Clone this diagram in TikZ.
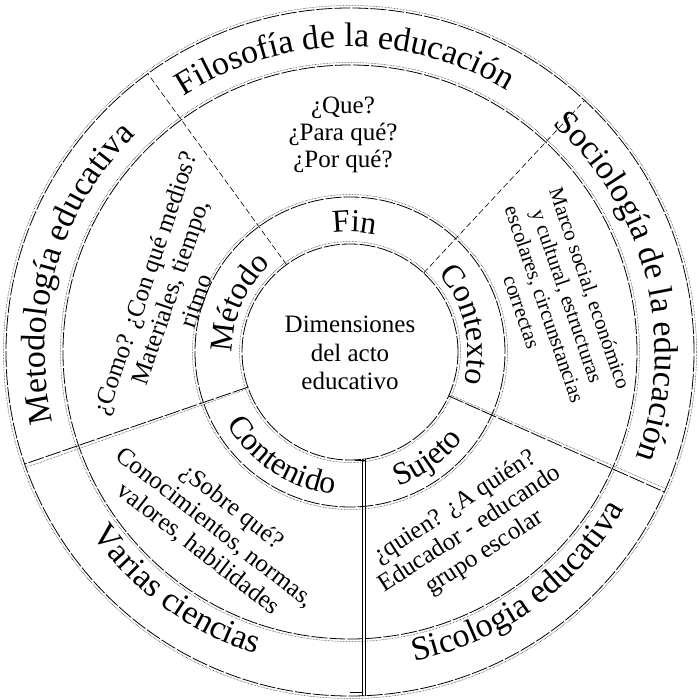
\documentclass[tikz,border=0pt]{standalone}
\usepackage{fontspec}
\setmainfont{Liberation Serif}
\usepackage{tikz}
\usetikzlibrary{decorations.text}
\tikzset{>=latex}
\newcommand\bandfont{\fontsize{34}{34}\selectfont}
\newcommand\ringfont{\fontsize{32}{32}\selectfont}
\newcommand\askfont{\fontsize{25}{27}\selectfont}
\newcommand\smallask{\fontsize{21}{24}\selectfont}
\newcommand\midfont{\fontsize{25}{28.5}\selectfont}

\begin{document}
\begin{tikzpicture}[x=1pt,y=1pt,
    ring/.style={line width=0.8pt,dash pattern=on 16pt off 2pt},
    ringdots/.style={line width=0.5pt,densely dotted},
    divider/.style={line width=0.6pt,dash pattern=on 6pt off 3pt},
    ask/.style={align=center,font=\askfont},
    bandtext/.style={decorate,decoration={text along path,text align=center,text={#1}}}]
    \useasboundingbox (-350,-348) rectangle (348,352);
    % circles
    \foreach \r in {108,155,287,344} {
      \draw[ring] (0,0) circle[radius=\r];
      \draw[ringdots] (0,0) circle[radius=\r+2.5];
    }
    % dividers
    \foreach \a in {126,47} {
      \draw[divider] (\a:108) -- (\a:344);
    }
    \foreach \a in {-24,199} {
      \draw[ring] (\a:108) -- (\a:344);
      \draw[ringdots] (\a+0.8:108) -- (\a+0.6:344);
    }
    \draw[line width=0.6pt] (12,-107.3) -- (12,-343.8);
    \draw[line width=0.6pt] (15,-107) -- (15,-343.7);
    \draw (5,-108) -- (15,-108);
    \draw (0,-340) -- (12,-340);
    % texts
    \node[align=center,font=\midfont] (acto) at (0,-1) {Dimensiones\\del acto\\educativo};
    \node[ask] (fin q) at (-7,217) {¿Que?\\¿Para qué?\\¿Por qué?};
    \node[ask,rotate=71] (metodo q) at (-180,60) {¿Como? ¿Con qué medios?\\Materiales, tiempo,\\ritmo};
    \node[ask,font=\smallask,rotate=-71] (contexto q) at (206,52) {Marco social, económico\\y cultural, estructuras\\escolares, circunstancias\\correctas};
    \node[ask,rotate=33] (sujeto q) at (120,-178) {¿quien? ¿A quién?\\Educador - educando\\grupo escolar};
    \node[ask,rotate=-38] (contenido q) at (-135,-176) {¿Sobre qué?\\Conocimientos, normas,\\valores, habilidades};
    % inner ring
    \path[bandtext={|\ringfont|Fin}] (168:120) arc[start angle=168,end angle=8,radius=120];
    \path[bandtext={|\ringfont|Método}] (236:118) arc[start angle=236,end angle=76,radius=118];
    \path[bandtext={|\ringfont|Contexto}] (93:118) arc[start angle=93,end angle=-67,radius=118];
    \path[bandtext={|\ringfont|Sujeto}] (-134:143) arc[start angle=-134,end angle=26,radius=143];
    \path[bandtext={|\ringfont|Contenido}] (157:143) arc[start angle=157,end angle=317,radius=143];
    % outer band
    \path[bandtext={|\bandfont|Filosofía de la educación}] (161:305) arc[start angle=161,end angle=21,radius=305];
    \path[bandtext={|\bandfont|Sociología de la educación}] (84:305) arc[start angle=84,end angle=-56,radius=305];
    \path[bandtext={|\bandfont|Metodología educativa}] (234:305) arc[start angle=234,end angle=94,radius=305];
    \path[bandtext={|\bandfont|Sicologia educativa}] (-124:316) arc[start angle=-124,end angle=16,radius=316];
    \path[bandtext={|\bandfont|Varias ciencias}] (164:316) arc[start angle=164,end angle=304,radius=316];
\end{tikzpicture}
\end{document}
